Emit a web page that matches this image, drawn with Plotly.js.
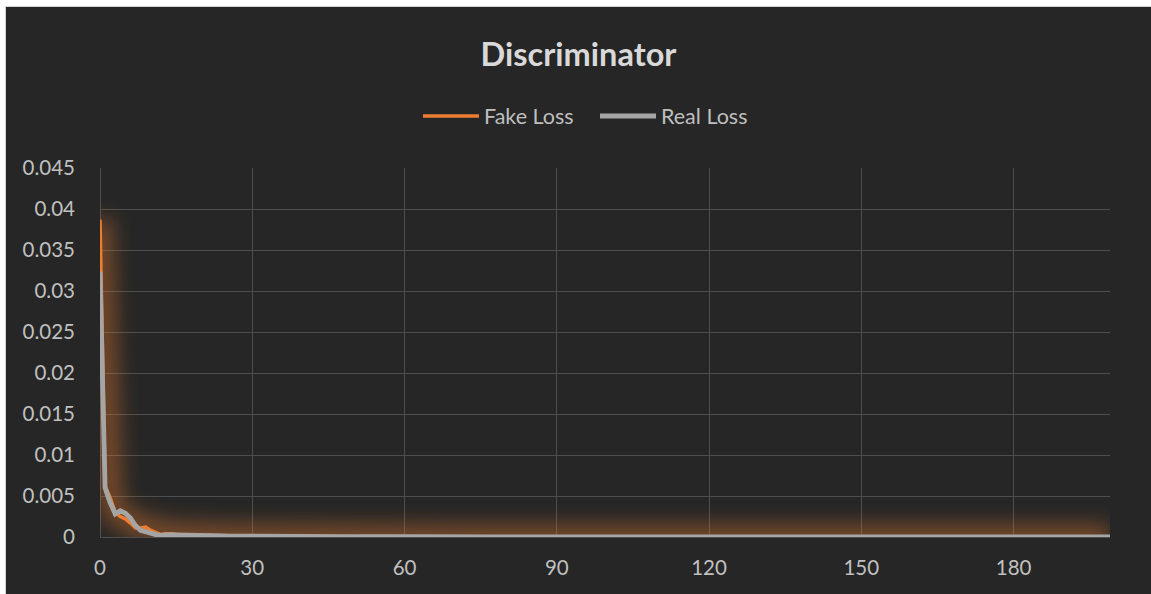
<!DOCTYPE html>
<html>
<head>
<meta charset="utf-8">
<script src="https://cdn.plot.ly/plotly-3.0.1.min.js"></script>
<style>
  html, body { margin: 0; padding: 0; background: #ffffff; width: 1151px; height: 594px; overflow: hidden; }
  #wrap { position: absolute; left: 5px; top: 6px; border-left: 1px solid #d4d4d4; border-top: 1px solid #d4d4d4; }
  #chart { width: 1145px; height: 587px; }
</style>
</head>
<body>
<svg width="0" height="0" style="position:absolute">
  <defs>
    <filter id="softglow" filterUnits="userSpaceOnUse" x="-200" y="-200" width="2000" height="1000">
      <feGaussianBlur stdDeviation="10"/>
    </filter>
  </defs>
</svg>
<div id="wrap"><div id="chart"></div></div>
<script>
// Epochs 0..199 are the implicit point indices.
const seriesNames = ["Fake Loss", "Real Loss"];
const xTickVals = [0, 30, 60, 90, 120, 150, 180];

const fakeLoss = [
  0.0387, 0.0062, 0.0048, 0.0030, 0.0025, 0.0022, 0.0017, 0.0011, 0.0011, 0.0012,
  0.0008, 0.0005, 0.0003, 0.0004, 0.0004, 0.00032, 0.0003, 0.00027, 0.00024, 0.00022,
  0.00023, 0.0002, 0.00019, 0.00018, 0.00018, 0.00016, 0.00015, 0.00015, 0.00013, 0.00012,
  0.00012, 0.00011, 0.00012, 0.00014, 0.00013, 0.0001, 0.00009, 0.00008, 0.00008, 0.00007,
  0.00007, 0.00007, 0.00006, 0.00006, 0.00006, 0.00005, 0.00005, 0.00006, 0.00005, 0.00005,
  0.00005, 0.00004, 0.00005, 0.00004, 0.00004, 0.00004, 0.00005, 0.00004, 0.00004, 0.00004,
  0.00004, 0.00003, 0.00004, 0.00004, 0.00003, 0.00003, 0.00004, 0.00003, 0.00003, 0.00003,
  0.00003, 0.00003, 0.00004, 0.00003, 0.00003, 0.00003, 0.00002, 0.00003, 0.00003, 0.00003,
  0.00003, 0.00002, 0.00003, 0.00003, 0.00002, 0.00003, 0.00003, 0.00002, 0.00003, 0.00002,
  0.00003, 0.00002, 0.00002, 0.00003, 0.00002, 0.00002, 0.00003, 0.00002, 0.00002, 0.00002,
  0.00002, 0.00003, 0.00002, 0.00002, 0.00002, 0.00002, 0.00003, 0.00002, 0.00002, 0.00002,
  0.00002, 0.00002, 0.00002, 0.00003, 0.00002, 0.00002, 0.00002, 0.00002, 0.00002, 0.00002,
  0.00002, 0.00002, 0.00003, 0.00002, 0.00002, 0.00002, 0.00002, 0.00002, 0.00002, 0.00002,
  0.00002, 0.00002, 0.00002, 0.00002, 0.00002, 0.00003, 0.00002, 0.00002, 0.00002, 0.00002,
  0.00002, 0.00002, 0.00002, 0.00002, 0.00002, 0.00002, 0.00002, 0.00002, 0.00003, 0.00002,
  0.00002, 0.00002, 0.00002, 0.00002, 0.00002, 0.00002, 0.00002, 0.00002, 0.00002, 0.00002,
  0.00002, 0.00002, 0.00002, 0.00002, 0.00003, 0.00002, 0.00002, 0.00002, 0.00002, 0.00002,
  0.00002, 0.00002, 0.00002, 0.00002, 0.00002, 0.00002, 0.00002, 0.00002, 0.00002, 0.00002,
  0.00002, 0.00002, 0.00002, 0.00003, 0.00002, 0.00002, 0.00002, 0.00002, 0.00002, 0.00002,
  0.00002, 0.00002, 0.00002, 0.00002, 0.00002, 0.00002, 0.00002, 0.00002, 0.00002, 0.00002
];

const realLoss = [
  0.0324, 0.0060, 0.0042, 0.0028, 0.0032, 0.0029, 0.0023, 0.0014, 0.0008, 0.0006,
  0.0005, 0.0003, 0.0002, 0.0003, 0.0003, 0.00025, 0.00022, 0.0002, 0.00017, 0.00015,
  0.00015, 0.00014, 0.00013, 0.00012, 0.00012, 0.00011, 0.0001, 0.0001, 0.00009, 0.00009,
  0.00008, 0.00008, 0.00007, 0.00007, 0.00007, 0.00006, 0.00006, 0.00006, 0.00005, 0.00005,
  0.00005, 0.00005, 0.00004, 0.00005, 0.00004, 0.00004, 0.00004, 0.00004, 0.00004, 0.00003,
  0.00004, 0.00003, 0.00003, 0.00004, 0.00003, 0.00003, 0.00003, 0.00003, 0.00003, 0.00003,
  0.00003, 0.00003, 0.00002, 0.00003, 0.00003, 0.00002, 0.00003, 0.00002, 0.00002, 0.00003,
  0.00002, 0.00002, 0.00002, 0.00003, 0.00002, 0.00002, 0.00002, 0.00002, 0.00002, 0.00002,
  0.00002, 0.00002, 0.00002, 0.00002, 0.00002, 0.00002, 0.00002, 0.00002, 0.00002, 0.00002,
  0.00002, 0.00002, 0.00002, 0.00002, 0.00002, 0.00002, 0.00002, 0.00002, 0.00002, 0.00002,
  0.00002, 0.00002, 0.00002, 0.00002, 0.00002, 0.00002, 0.00002, 0.00002, 0.00002, 0.00002,
  0.00002, 0.00002, 0.00002, 0.00002, 0.00002, 0.00002, 0.00002, 0.00002, 0.00002, 0.00002,
  0.00002, 0.00002, 0.00002, 0.00002, 0.00002, 0.00002, 0.00002, 0.00002, 0.00002, 0.00002,
  0.00002, 0.00002, 0.00002, 0.00002, 0.00002, 0.00002, 0.00002, 0.00002, 0.00002, 0.00002,
  0.00002, 0.00002, 0.00002, 0.00002, 0.00002, 0.00002, 0.00002, 0.00002, 0.00002, 0.00002,
  0.00002, 0.00002, 0.00002, 0.00002, 0.00002, 0.00002, 0.00002, 0.00002, 0.00002, 0.00002,
  0.00002, 0.00002, 0.00002, 0.00002, 0.00002, 0.00002, 0.00002, 0.00002, 0.00002, 0.00002,
  0.00002, 0.00002, 0.00002, 0.00002, 0.00002, 0.00002, 0.00002, 0.00002, 0.00002, 0.00002,
  0.00002, 0.00002, 0.00002, 0.00002, 0.00002, 0.00002, 0.00002, 0.00002, 0.00002, 0.00002,
  0.00002, 0.00002, 0.00002, 0.00002, 0.00002, 0.00002, 0.00002, 0.00002, 0.00002, 0.00002
];

const ORANGE = "#ED7D31";
const GRAY = "#A5A5A5";
const FONT = "Lato, 'Open Sans', sans-serif";

const traces = [
  { // soft orange glow under the Fake Loss line (Excel glow effect), blurred after drawing
    y: fakeLoss, type: "scatter", mode: "lines",
    line: { color: "rgba(237,125,49,0.42)", width: 24 },
    showlegend: false, hoverinfo: "skip"
  },
  {
    y: fakeLoss, name: seriesNames[0], type: "scatter", mode: "lines",
    line: { color: ORANGE, width: 3.5 }
  },
  {
    y: realLoss, name: seriesNames[1], type: "scatter", mode: "lines",
    line: { color: GRAY, width: 4.8 }
  }
];

const layout = {
  width: 1145, height: 587,
  paper_bgcolor: "#262626", plot_bgcolor: "#262626",
  margin: { l: 94, r: 41, t: 161, b: 57 },
  font: { family: FONT, color: "#c0c0c0", size: 20 },
  title: {
    text: "<b>Discriminator</b>",
    font: { family: FONT, size: 32.5, color: "#d9d9d9" },
    x: 0.5, xref: "container", xanchor: "center",
    y: 1 - 48 / 587, yref: "container", yanchor: "middle"
  },
  showlegend: true,
  legend: {
    orientation: "h",
    x: 412 / 1145, xref: "container", xanchor: "left",
    y: 1 - 109 / 587, yref: "container", yanchor: "middle",
    font: { family: FONT, size: 21.5, color: "#bfbfbf" },
    bgcolor: "rgba(0,0,0,0)",
    itemwidth: 56,
    entrywidth: 106, entrywidthmode: "pixels",
    traceorder: "normal"
  },
  xaxis: {
    range: [0, 199],
    tickmode: "array", tickvals: xTickVals,
    showgrid: true, gridcolor: "#4e4e4e", gridwidth: 1,
    zeroline: true, zerolinecolor: "#4e4e4e", zerolinewidth: 1,
    showline: false, ticks: "",
    ticklabelstandoff: 16,
    tickfont: { family: FONT, size: 20.5, color: "#c0c0c0" },
    fixedrange: true
  },
  yaxis: {
    range: [0, 0.04502],
    dtick: 0.005, tick0: 0,
    showgrid: true, gridcolor: "#4e4e4e", gridwidth: 1,
    zeroline: true, zerolinecolor: "#4e4e4e", zerolinewidth: 1,
    showline: false, ticks: "",
    ticklabelstandoff: 24,
    tickfont: { family: FONT, size: 20.5, color: "#c0c0c0" },
    fixedrange: true
  }
};

Plotly.newPlot("chart", traces, layout, { displayModeBar: false, staticPlot: true }).then(gd => {
  const glowTrace = gd.querySelectorAll(".scatterlayer .trace")[0];
  if (glowTrace) {
    glowTrace.querySelectorAll("path.js-line").forEach(p => p.setAttribute("filter", "url(#softglow)"));
  }
});
</script>
</body>
</html>
